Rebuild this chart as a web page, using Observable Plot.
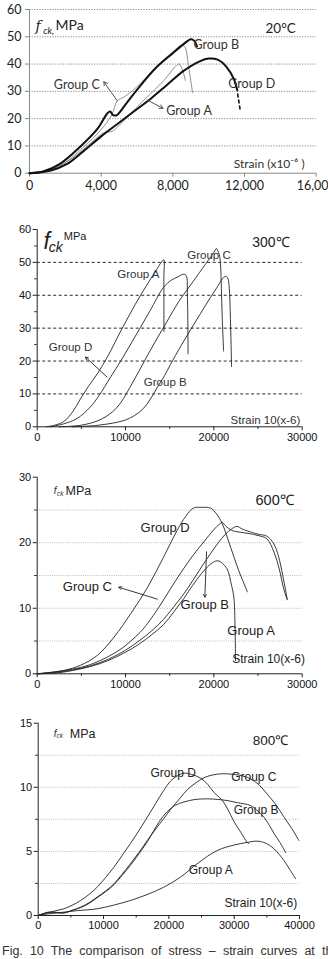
<!DOCTYPE html>
<html>
<head>
<meta charset="utf-8">
<script src="https://cdn.jsdelivr.net/npm/d3@7"></script>
<script src="https://cdn.jsdelivr.net/npm/@observablehq/plot@0.6"></script>
<style>
  html, body { margin: 0; padding: 0; background: #fff; }
  body { width: 328px; height: 959px; overflow: hidden; position: relative; }
  #charts svg { display: block; }
  #caption {
    position: absolute; left: 2px; top: 944px; width: 326px; overflow: hidden;
    font-family: "Liberation Sans", Arial, sans-serif; font-size: 12.5px; line-height: 14px;
    color: #333; white-space: nowrap; word-spacing: 3.6px;
  }
</style>
</head>
<body>
<div id="charts"></div>
<div id="caption">Fig. 10 The comparison of stress – strain curves at the various temperatures</div>
<script>
// ---------- 20 °C ----------
const t20_A_strain = [0, 800, 1500, 2500, 3500, 4200, 4600, 5000, 5600, 6500, 7500, 8200, 8350, 8550, 8700];
const t20_A_stress = [0, 0.6, 2, 6, 11.5, 15, 15.3, 17.5, 21.5, 27.5, 34, 39.5, 40, 37.5, 34];
const t20_B_strain = [0, 800, 1700, 2800, 3800, 4350, 4500, 4650, 4850, 5450, 6200, 7100, 8000, 8600, 9000, 9200, 9350];
const t20_B_stress = [0, 0.7, 3.4, 9.5, 16.3, 22.0, 22.6, 21.4, 21.2, 26, 32.2, 38.9, 44, 47.3, 49.1, 48.5, 46.5];
const t20_C_strain = [0, 1000, 2000, 3000, 4000, 4600, 4900, 5300, 5800, 6500, 7300, 8000, 8450, 8650, 8900, 9100];
const t20_C_stress = [0, 1, 4, 9.5, 16, 21.5, 26.5, 28, 30.5, 35, 40.5, 44.5, 46.8, 46.5, 38, 29.5];
const t20_D_strain = [0, 1200, 2100, 3000, 4000, 5000, 5800, 6800, 7700, 8600, 9500, 10000, 10500, 11000, 11400, 11600];
const t20_D_stress = [0, 1, 3.4, 8, 13.5, 18.5, 22.5, 27.5, 32.5, 37.5, 41, 42, 41.6, 38.9, 34.6, 30.3];
const t20_D_tail_strain = [11620, 11750];
const t20_D_tail_stress = [29, 23.5];
const t20_xTicks = [0, 4000, 8000, 12000, 16000];
const t20_yTicks = [0, 10, 20, 30, 40, 50, 60];
const t20_grid = [10, 20, 30, 40, 50, 60];
const t20_labels = [
  {x: 9150, y: 47.1, t: "Group B"},
  {x: 1360, y: 32.5, t: "Group C"},
  {x: 11090, y: 32.7, t: "Group D"},
  {x: 7630, y: 22.9, t: "Group A"}
];
const t20_arrows = [
  {x1: 4890, y1: 26.6, x2: 4150, y2: 33.5},
  {x1: 6570, y1: 26.8, x2: 7450, y2: 23.8}
];

// ---------- 300 °C ----------
const t300_A_strain = [1000, 2000, 3000, 4000, 4900, 5800, 6800, 8000, 9400, 10500, 11700, 12900, 13700, 14150, 14330, 14340, 14350];
const t300_A_stress = [0, 0.5, 1.6, 4.5, 8.5, 12.3, 16.1, 21.5, 28.8, 34.3, 40, 45.2, 48.6, 50.4, 50.8, 45, 29];
const t300_B_strain = [4000, 7000, 9800, 11000, 12000, 12830, 13600, 14400, 15100, 16250, 17360, 18500, 19630, 20500, 20950, 21200, 21400, 21600, 21750, 21850, 21950, 22000];
const t300_B_stress = [0, 0.5, 1.9, 3.4, 5.5, 8.5, 12, 15.5, 19, 24.5, 29.5, 34.5, 39.4, 43, 45, 45.6, 45.7, 45, 42, 35, 25, 18.3];
const t300_C_strain = [2500, 5000, 7000, 8500, 9500, 10500, 11500, 12500, 13600, 14800, 16000, 17200, 18400, 19600, 20100, 20270, 20600, 20750, 20850, 20950, 21100];
const t300_C_stress = [0, 0.5, 2, 4.5, 7.5, 12, 16.8, 21.8, 27, 32.5, 38, 42.5, 47, 51.5, 53.5, 54.2, 52.5, 49.5, 42, 33, 23];
const t300_D_strain = [1500, 3000, 4500, 6000, 7000, 8300, 9500, 10600, 11700, 12800, 14300, 15200, 15850, 16600, 16870, 17000, 17080];
const t300_D_stress = [0, 0.9, 2.5, 6, 9.5, 15.1, 20.2, 25.2, 30.3, 35.4, 42.4, 44.6, 45.5, 46.4, 46, 40, 22.2];
const t300_xTicks = [0, 10000, 20000, 30000];
const t300_xMinor = [5000, 15000, 25000];
const t300_yTicks = [0, 10, 20, 30, 40, 50, 60];
const t300_yMinor = [5, 15, 25, 35, 45, 55];
const t300_grid = [10, 20, 30, 40, 50];
const t300_labels = [
  {x: 16990, y: 52.1, t: "Group C"},
  {x: 9060, y: 46.5, t: "Group A"},
  {x: 1310, y: 24.2, t: "Group D"},
  {x: 12070, y: 13.6, t: "Group B"}
];
const t300_arrows = [{x1: 7920, y1: 15.1, x2: 5470, y2: 21.2}];

// ---------- 600 °C ----------
const t600_A_strain = [0, 2000, 4000, 6000, 8000, 10000, 11500, 13000, 14300, 15500, 16600, 17600, 18600, 19500, 20200, 20600, 21000, 21500, 22000, 22260, 22400, 22450];
const t600_A_stress = [0, 0.1, 0.5, 1.1, 2, 3.3, 4.5, 6, 7.5, 9.5, 11.5, 13.5, 15.3, 16.6, 17.2, 17.2, 16.8, 16, 13.5, 11.7, 7, 2];
const t600_B_strain = [0, 2000, 4000, 6000, 8000, 10000, 11500, 13000, 14300, 15500, 16600, 17600, 18600, 19600, 20500, 21300, 22000, 22600, 23200, 23800, 25000, 26000, 26800, 27300, 27800, 28300];
const t600_B_stress = [0, 0.2, 0.6, 1.2, 2.2, 3.6, 5, 6.6, 8.3, 10.3, 12.2, 14.2, 16.3, 18.3, 20, 21.3, 22.1, 22.5, 22.1, 21.8, 21.3, 21.0, 19.8, 18, 15, 11.4];
const t600_C_strain = [0, 2000, 4000, 6000, 8000, 9500, 10600, 11700, 12500, 13800, 15100, 16300, 17600, 18900, 20000, 20600, 20950, 21300, 22000, 23000, 24000, 25000, 26000, 26800, 27400, 27900, 28300];
const t600_C_stress = [0, 0.3, 0.7, 1.4, 2.6, 3.8, 5, 6.4, 7.7, 10.2, 13, 15.5, 18, 20.2, 22, 22.8, 23.1, 22.6, 21.9, 21.6, 21.4, 21.1, 20.6, 18.6, 16, 13, 11.3];
const t600_D_strain = [0, 1500, 3000, 4900, 6800, 8700, 10600, 12500, 14300, 15850, 16800, 17700, 18600, 19600, 20300, 20950, 21900, 22800, 23800];
const t600_D_stress = [0, 0.2, 0.5, 1.3, 2.8, 5.6, 9.2, 13.2, 17.8, 21.9, 24, 25.3, 25.4, 25.3, 24.4, 22.9, 19.3, 15.8, 12.5];
const t600_xTicks = [0, 10000, 20000, 30000];
const t600_xMinor = [5000, 15000, 25000];
const t600_yTicks = [0, 10, 20, 30];
const t600_yMinor = [5, 15, 25];
const t600_grid = [5, 10, 15, 20, 25];
const t600_labels = [
  {x: 11700, y: 22.2, t: "Group D"},
  {x: 2900, y: 13.2, t: "Group C"},
  {x: 16230, y: 10.6, t: "Group B"},
  {x: 21520, y: 6.6, t: "Group A"}
];
const t600_arrows = [
  {x1: 13590, y1: 11.4, x2: 9240, y2: 13.2},
  {x1: 19170, y1: 18.6, x2: 18980, y2: 11.7}
];

// ---------- 800 °C ----------
const t800_A_strain = [0, 1000, 2000, 3900, 6000, 9000, 11500, 14100, 16500, 19200, 21800, 24500, 27400, 30000, 32000, 33500, 34800, 36100, 37600, 38500, 39400];
const t800_A_stress = [0, 0.1, 0.15, 0.26, 0.38, 0.52, 0.8, 1.17, 1.6, 2.2, 3.0, 4.1, 5.07, 5.5, 5.7, 5.8, 5.65, 5.2, 4.3, 3.6, 2.86];
const t800_B_strain = [0, 1500, 2500, 3900, 5200, 6500, 7800, 9000, 10300, 11600, 12800, 14100, 15400, 16700, 18500, 19750, 21000, 22300, 24000, 25900, 27500, 28900, 30500, 32500, 33500, 34500, 35300, 36100, 37000, 37900];
const t800_B_stress = [0, 0.25, 0.25, 0.2, 0.4, 0.62, 0.95, 1.38, 1.85, 2.4, 3.1, 3.9, 4.8, 5.75, 7.3, 8.1, 8.6, 8.85, 9.05, 9.1, 9.05, 8.97, 8.8, 8.58, 8.2, 7.7, 7.1, 6.4, 5.7, 4.9];
const t800_C_strain = [0, 1500, 2500, 3900, 5200, 6500, 7800, 9000, 10300, 11600, 12800, 14100, 15400, 16700, 18000, 19200, 20300, 21800, 22800, 24000, 25400, 26600, 27900, 29000, 30000, 31200, 32500, 33800, 35000, 36300, 37600, 38800, 39900];
const t800_C_stress = [0, 0.25, 0.25, 0.2, 0.4, 0.65, 1.0, 1.43, 1.9, 2.47, 3.2, 4.03, 4.9, 5.85, 6.75, 7.54, 8.3, 9.2, 9.8, 10.3, 10.75, 10.95, 11.05, 11.05, 11.0, 10.9, 10.66, 10.2, 9.5, 8.7, 7.7, 6.8, 5.85];
const t800_D_strain = [0, 1500, 2500, 3900, 5200, 6500, 7800, 9000, 10300, 11600, 12800, 14100, 15400, 16700, 18000, 19200, 20300, 21300, 22300, 23500, 24900, 26000, 26900, 28200, 29000, 30000, 31000, 32000, 32250];
const t800_D_stress = [0, 0.2, 0.35, 0.52, 0.8, 1.17, 1.65, 2.2, 2.95, 3.77, 4.65, 5.6, 6.6, 7.67, 8.75, 9.75, 10.5, 10.9, 11.1, 11.0, 10.7, 10.2, 9.6, 8.97, 8.3, 7.3, 6.5, 5.7, 5.6];
const t800_xTicks = [0, 10000, 20000, 30000, 40000];
const t800_xMinor = [5000, 15000, 25000, 35000];
const t800_yTicks = [0, 5, 10, 15];
const t800_yMinor = [2.5, 7.5, 12.5];
const t800_grid = [2.5, 5, 7.5, 10, 12.5];
const t800_labels = [
  {x: 17190, y: 11.13, t: "Group D"},
  {x: 29540, y: 10.8, t: "Group C"},
  {x: 29940, y: 8.2, t: "Group B"},
  {x: 23050, y: 3.56, t: "Group A"}
];

// Build a tidy table for one curve
const series = (group, xs, ys) => xs.map((x, i) => ({group, strain: x, stress: ys[i]}));

const ARIAL = "'Liberation Sans', Arial, sans-serif";
const charts = document.getElementById("charts");

// Shared axis marks for the Origin-style panels (black axes, major + minor ticks)
function originAxes(xTicks, xMinor, yTicks, yMinor, fontSize) {
  return [
    Plot.ruleX([0], {stroke: "#222", strokeWidth: 1}),
    Plot.ruleY([0], {stroke: "#222", strokeWidth: 1}),
    Plot.axisX({ticks: xTicks, tickSize: 4, tickPadding: 2, tickFormat: d3.format("d"), label: null, fontSize, stroke: "#222", fill: "#111"}),
    Plot.axisX({ticks: xMinor, tickSize: 2.5, tickFormat: () => "", label: null, stroke: "#222"}),
    Plot.axisY({ticks: yTicks, tickSize: 4, tickPadding: 2, tickFormat: d3.format("d"), label: null, fontSize, stroke: "#222", fill: "#111"}),
    Plot.axisY({ticks: yMinor, tickSize: 2.5, tickFormat: () => "", label: null, stroke: "#222"})
  ];
}

// ---------- Panel: 20 °C (spreadsheet style) ----------
const data20 = [
  ...series("A", t20_A_strain, t20_A_stress),
  ...series("C", t20_C_strain, t20_C_stress)
];
const data20bold = [
  ...series("B", t20_B_strain, t20_B_stress),
  ...series("D", t20_D_strain, t20_D_stress)
];
const data20tail = series("D", t20_D_tail_strain, t20_D_tail_stress);

charts.append(Plot.plot({
  width: 328, height: 200,
  marginLeft: 29, marginRight: 12.3, marginTop: 9, marginBottom: 27.3,
  style: {fontFamily: "Lato, sans-serif", fontSize: "12px", background: "#fff", overflow: "visible"},
  x: {domain: [0, 16000], label: null},
  y: {domain: [0, 60], label: null},
  marks: [
    Plot.ruleY(t20_grid, {stroke: "#8a8a8a", strokeDasharray: "1.2,1.4", strokeWidth: 1}),
    Plot.ruleX([0], {stroke: "#8a8a8a"}),
    Plot.ruleY([0], {stroke: "#8a8a8a"}),
    Plot.axisX({ticks: t20_xTicks, tickSize: 4, tickPadding: 4, tickFormat: d3.format(","), label: null, stroke: "#8a8a8a", fill: "#222", fontSize: 12.5}),
    Plot.axisY({ticks: t20_yTicks, tickSize: 4, tickPadding: 4, tickFormat: d3.format("d"), label: null, stroke: "#8a8a8a", fill: "#222", fontSize: 12.5}),
    Plot.line(data20, {x: "strain", y: "stress", z: "group", stroke: "#8f8f8f", strokeWidth: 1, curve: "catmull-rom"}),
    Plot.line(data20bold, {x: "strain", y: "stress", z: "group", stroke: "#111", strokeWidth: 2, curve: "catmull-rom"}),
    Plot.line(data20tail, {x: "strain", y: "stress", stroke: "#111", strokeWidth: 1.6, strokeDasharray: "3,3"}),
    Plot.arrow(t20_arrows, {x1: "x1", y1: "y1", x2: "x2", y2: "y2", stroke: "#555", strokeWidth: 1, headLength: 6}),
    Plot.text(t20_labels, {x: "x", y: "y", text: "t", textAnchor: "start", fontSize: 12.5, fill: "#333"}),
    Plot.text(["f"], {x: 335, y: 53.8, textAnchor: "start", fontSize: 14, fontStyle: "italic", fill: "#222", fontFamily: "'DejaVu Serif', serif"}),
    Plot.text(["ck,"], {x: 765, y: 52.3, textAnchor: "start", fontSize: 9.5, fontStyle: "italic", fill: "#222"}),
    Plot.text(["MPa"], {x: 1450, y: 54, textAnchor: "start", fontSize: 14, fill: "#222"}),
    Plot.text(["20°C"], {x: 13170, y: 52.8, textAnchor: "start", fontSize: 13.5, fill: "#222"}),
    Plot.text(["Strain (x10⁻⁶ )"], {x: 11400, y: 3.2, textAnchor: "start", fontSize: 12, fill: "#333"})
  ]
}));

// ---------- Panel: 300 °C ----------
const data300 = [
  ...series("A", t300_A_strain, t300_A_stress),
  ...series("B", t300_B_strain, t300_B_stress),
  ...series("C", t300_C_strain, t300_C_stress),
  ...series("D", t300_D_strain, t300_D_stress)
];
charts.append(Plot.plot({
  width: 328, height: 245,
  marginLeft: 36.7, marginRight: 26.3, marginTop: 29, marginBottom: 18.7,
  style: {fontFamily: ARIAL, fontSize: "10px", background: "#fff", overflow: "visible"},
  x: {domain: [0, 30000], label: null},
  y: {domain: [0, 60], label: null},
  marks: [
    Plot.ruleY(t300_grid, {stroke: "#111", strokeDasharray: "3,2.5", strokeWidth: 0.9}),
    ...originAxes(t300_xTicks, t300_xMinor, t300_yTicks, t300_yMinor, 11),
    Plot.line(data300, {x: "strain", y: "stress", z: "group", stroke: "#222", strokeWidth: 0.9, curve: "catmull-rom"}),
    Plot.arrow(t300_arrows, {x1: "x1", y1: "y1", x2: "x2", y2: "y2", stroke: "#222", strokeWidth: 0.9, headLength: 5}),
    Plot.text(t300_labels, {x: "x", y: "y", text: "t", textAnchor: "start", fontSize: 11.5, fill: "#333"}),
    Plot.text(["f"], {x: 710, y: 56.3, textAnchor: "start", fontSize: 23, fontStyle: "italic", fill: "#222"}),
    Plot.text(["ck"], {x: 1310, y: 54.6, textAnchor: "start", fontSize: 14, fontStyle: "italic", fill: "#222"}),
    Plot.text(["MPa"], {x: 3010, y: 57.9, textAnchor: "start", fontSize: 11, fill: "#222"}),
    Plot.text(["300℃"], {x: 24350, y: 56.1, textAnchor: "start", fontSize: 14, fill: "#222"}),
    Plot.text(["Strain 10(x-6)"], {x: 21890, y: 2.1, textAnchor: "start", fontSize: 11.5, fill: "#333"})
  ]
}));

// ---------- Panel: 600 °C ----------
const data600 = [
  ...series("A", t600_A_strain, t600_A_stress),
  ...series("B", t600_B_strain, t600_B_stress),
  ...series("C", t600_C_strain, t600_C_stress),
  ...series("D", t600_D_strain, t600_D_stress)
];
charts.append(Plot.plot({
  width: 328, height: 245,
  marginLeft: 36.7, marginRight: 26.3, marginTop: 31.7, marginBottom: 16.7,
  style: {fontFamily: ARIAL, fontSize: "10px", background: "#fff", overflow: "visible"},
  x: {domain: [0, 30000], label: null},
  y: {domain: [0, 30], label: null},
  marks: [
    Plot.ruleY(t600_grid, {stroke: "#bdbdbd", strokeDasharray: "1,1.2", strokeWidth: 1}),
    ...originAxes(t600_xTicks, t600_xMinor, t600_yTicks, t600_yMinor, 11),
    Plot.line(data600, {x: "strain", y: "stress", z: "group", stroke: "#222", strokeWidth: 0.9, curve: "catmull-rom"}),
    Plot.arrow(t600_arrows, {x1: "x1", y1: "y1", x2: "x2", y2: "y2", stroke: "#222", strokeWidth: 0.9, headLength: 5}),
    Plot.text(t600_labels, {x: "x", y: "y", text: "t", textAnchor: "start", fontSize: 13, fill: "#222"}),
    Plot.text(["f"], {x: 1880, y: 27.9, textAnchor: "start", fontSize: 10, fontStyle: "italic", fill: "#333"}),
    Plot.text(["ck"], {x: 2250, y: 27.5, textAnchor: "start", fontSize: 6.5, fontStyle: "italic", fill: "#333"}),
    Plot.text(["MPa"], {x: 3200, y: 27.9, textAnchor: "start", fontSize: 12.5, fill: "#222"}),
    Plot.text(["600℃"], {x: 24720, y: 26.4, textAnchor: "start", fontSize: 14.5, fill: "#222"}),
    Plot.text(["Strain 10(x-6)"], {x: 22080, y: 2.3, textAnchor: "start", fontSize: 12, fill: "#222"})
  ]
}));

// ---------- Panel: 800 °C ----------
const data800 = [
  ...series("A", t800_A_strain, t800_A_stress),
  ...series("B", t800_B_strain, t800_B_stress),
  ...series("C", t800_C_strain, t800_C_stress),
  ...series("D", t800_D_strain, t800_D_stress)
];
charts.append(Plot.plot({
  width: 328, height: 250,
  marginLeft: 37.7, marginRight: 29, marginTop: 32.7, marginBottom: 25,
  style: {fontFamily: ARIAL, fontSize: "10px", background: "#fff", overflow: "visible"},
  x: {domain: [0, 40000], label: null},
  y: {domain: [0, 15], label: null},
  marks: [
    Plot.ruleY(t800_grid, {stroke: "#bdbdbd", strokeDasharray: "1,1.2", strokeWidth: 1}),
    ...originAxes(t800_xTicks, t800_xMinor, t800_yTicks, t800_yMinor, 11),
    Plot.line(data800, {x: "strain", y: "stress", z: "group", stroke: "#222", strokeWidth: 0.9, curve: "catmull-rom"}),
    Plot.text(t800_labels, {x: "x", y: "y", text: "t", textAnchor: "start", fontSize: 12, fill: "#222"}),
    Plot.text(["f"], {x: 2390, y: 14.17, textAnchor: "start", fontSize: 10, fontStyle: "italic", fill: "#333"}),
    Plot.text(["ck"], {x: 2800, y: 14.0, textAnchor: "start", fontSize: 6.5, fontStyle: "italic", fill: "#333"}),
    Plot.text(["MPa"], {x: 4840, y: 14.17, textAnchor: "start", fontSize: 12.5, fill: "#222"}),
    Plot.text(["800℃"], {x: 32850, y: 13.65, textAnchor: "start", fontSize: 13.5, fill: "#222"}),
    Plot.text(["Strain 10(x-6)"], {x: 28520, y: 0.96, textAnchor: "start", fontSize: 12, fill: "#222"})
  ]
}));
</script>
</body>
</html>
